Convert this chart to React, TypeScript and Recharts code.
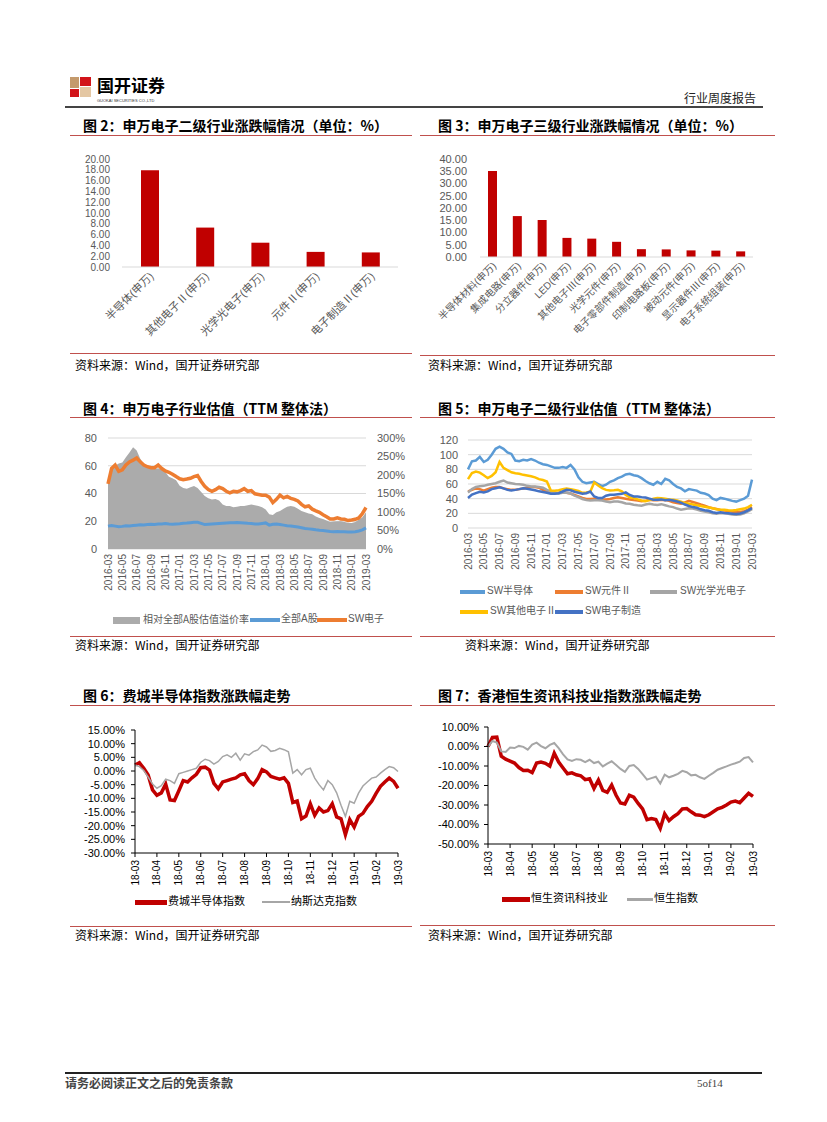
import React from 'react';
import { BarChart, Bar, ComposedChart, LineChart, Area, Line, XAxis, YAxis, CartesianGrid } from 'recharts';

const SANS = "'Liberation Sans', Arial, 'Noto Sans CJK SC', sans-serif";
const CJK = "'Noto Sans CJK SC', 'Liberation Sans', sans-serif";
const RED = '#C00000';
const RULE = '#C0504D';
const SRC = '资料来源：Wind，国开证券研究部';

// 图2: 申万电子二级行业涨跌幅
const sw2Cats = ['半导体(申万)', '其他电子Ⅱ(申万)', '光学光电子(申万)', '元件Ⅱ(申万)', '电子制造Ⅱ(申万)'];
const sw2Chg = [17.9, 7.3, 4.5, 2.8, 2.7];
const sw2Ticks = [0, 2, 4, 6, 8, 10, 12, 14, 16, 18, 20];

// 图3: 申万电子三级行业涨跌幅
const sw3Cats = [
  '半导体材料(申万)', '集成电路(申万)', '分立器件(申万)', 'LED(申万)', '其他电子Ⅲ(申万)', '光学元件(申万)',
  '电子零部件制造(申万)', '印制电路板(申万)', '被动元件(申万)', '显示器件Ⅲ(申万)', '电子系统组装(申万)',
];
const sw3Chg = [35.1, 16.7, 15.1, 7.8, 7.5, 6.2, 3.2, 3.1, 2.7, 2.6, 2.3];
const sw3Ticks = [0, 5, 10, 15, 20, 25, 30, 35, 40];

// 图4/5: half-month points, 2016-03 .. 2019-03
const valMonths = [
  '2016-03', '2016-05', '2016-07', '2016-09', '2016-11', '2017-01', '2017-03', '2017-05', '2017-07', '2017-09',
  '2017-11', '2018-01', '2018-03', '2018-05', '2018-07', '2018-09', '2018-11', '2019-01', '2019-03',
];

const swDianzi = [
  47, 58, 60.5, 56, 57, 60.5, 62.8, 64, 65.6, 62.8,
  60.5, 59.3, 58.6, 58.6, 60.5, 58, 56.2, 55.3, 53.9, 52.2,
  50.6, 49.9, 50.4, 51, 52.2, 53, 48.7, 45.2, 42.8, 41.6,
  42.8, 44.5, 43.5, 41.6, 40.5, 41.6, 41.2, 42.1, 43.5, 41.6,
  42.1, 39.8, 39.3, 38.8, 38.8, 37.4, 33.4, 35.8, 38.8, 36.9,
  37.9, 36.5, 35.8, 34.6, 32.2, 30.4, 31, 28.7, 27.5, 26.4,
  24.7, 23.3, 21.6, 21.6, 22.4, 21.6, 21.4, 20.5, 20.9, 21.4,
  22.4, 25.6, 29.9,
];
const allAShare = [
  16.5, 17, 16.5, 16, 16.3, 16.8, 16.6, 17, 17.2, 17.4,
  17.3, 17.6, 17.8, 17.7, 18, 18.1, 18.3, 18.0, 17.8, 18.0,
  18.2, 18.5, 18.7, 19.0, 19.2, 19.3, 18.5, 17.6, 17.8, 18.0,
  18.2, 18.4, 18.6, 18.8, 18.9, 19.0, 19.1, 19.0, 18.8, 18.5,
  18.3, 18.1, 18.0, 18.4, 18.8, 17.2, 17.8, 18.0, 17.6, 17.2,
  16.8, 16.5, 16.2, 15.8, 15.3, 14.8, 14.5, 14.2, 13.8, 13.5,
  13.3, 13.0, 12.6, 12.5, 12.6, 12.5, 12.4, 12.3, 12.2, 12.5,
  13.0, 13.8, 15.2,
];
const premium = [
  187, 214, 225, 231, 234, 248, 261, 275, 266, 244,
  229, 221, 218, 216, 218, 214, 208, 195, 191, 186,
  171, 165, 163, 167, 170, 165, 154, 143, 137, 134,
  135, 131, 120, 116, 116, 113, 114, 116, 116, 118,
  120, 118, 116, 113, 107, 94, 92, 99, 103, 109,
  114, 116, 114, 109, 103, 99, 96, 94, 88, 84,
  81, 77, 73, 74, 75, 75, 73, 71, 70, 73,
  79, 86, 99,
];

const semi = [
  80, 91, 92, 97, 90, 93, 100, 108, 111, 108,
  103, 101, 92, 91, 93, 92, 94, 92, 89, 87,
  86, 84, 82, 82, 83, 82, 86, 80, 69, 63,
  61, 62, 63, 60, 57, 59, 63, 65, 68, 70,
  73, 74, 72, 71, 68, 64, 61, 59, 63, 60,
  67, 65, 60, 56, 54, 50, 53, 52, 51, 48,
  47, 45, 40, 38, 41, 40, 38.5, 37, 36, 38,
  40, 44, 66,
];
const component2 = [
  50, 52, 54, 53, 51, 53, 55, 56, 56, 54,
  53, 52, 52, 53, 54, 55, 56, 56, 55, 52,
  49, 48, 47.6, 48, 49, 48, 47, 45, 43, 41,
  39.5, 39.5, 40, 39, 38.5, 39, 39.5, 41, 42, 41,
  40, 39, 38, 37.6, 36.5, 37, 38.5, 38, 38, 38.5,
  38, 37, 35, 34, 33, 35, 37, 35.5, 34, 32,
  30.5, 28.5, 27, 25.8, 24.5, 24, 23, 22, 21.5, 22,
  23, 25, 28.5,
];
const opto = [
  48.5, 53, 56, 57, 57.5, 59, 60, 61, 63, 64.8,
  62, 61, 60, 59.5, 59, 57.5, 56.6, 56.5, 56, 55,
  52, 49.8, 47.6, 47, 48, 48, 47, 44, 42, 39.5,
  38, 37.6, 38, 38, 37.5, 36, 35, 36, 36, 35,
  33.5, 33, 31.7, 31, 30.5, 32, 33, 32, 31.5, 32.5,
  31, 29.5, 28.5, 26.5, 25, 26, 27, 26.5, 25, 23.5,
  22.6, 21.5, 20, 19.5, 20.4, 20, 19.5, 18.5, 18, 18.5,
  20, 22.5, 25.8,
];
const otherElec = [
  66.6, 75, 77, 75.5, 72, 68, 71, 76, 90, 82,
  79, 76, 74.7, 74, 72.5, 71.5, 70.5, 69, 66.6, 65.5,
  63.4, 51, 50.7, 51.5, 53, 54, 53, 52, 50.5, 48,
  48.5, 49.5, 62, 58, 54.3, 52, 51.2, 51.5, 52, 50,
  45, 42, 40.8, 39, 37.6, 36.5, 38, 40, 40.8, 40.5,
  40, 39, 38.5, 37.5, 36, 34, 33, 32, 31, 30,
  29, 28, 27, 25.5, 25, 24.8, 24.2, 24, 24.5, 25.5,
  26.5, 28.5, 31.7,
];
const elecMfg = [
  41, 45.5, 47.6, 49.5, 48.5, 50, 53, 54.3, 55.5, 54,
  52, 51.2, 52, 53, 54.3, 53.5, 52.5, 51.5, 50, 49,
  48, 46.8, 46.6, 47.5, 49.8, 52, 51.5, 49.5, 48, 46.6,
  47.5, 49.8, 43, 41, 40.8, 44, 45.3, 45.5, 46, 46.6,
  48.5, 45, 43, 43, 42.1, 41.5, 40, 38.5, 38.5, 39,
  37.8, 38.5, 37.5, 36.2, 34.5, 32, 30, 28.5, 27.5, 25.5,
  24.3, 23.5, 21.5, 20.4, 21.3, 20.5, 20, 19.5, 19, 19.8,
  21.5, 24, 27.2,
];

// 图6/7: 5 points per month, 2018-03 .. 2019-03
const idxMonths = ['18-03', '18-04', '18-05', '18-06', '18-07', '18-08', '18-09', '18-10', '18-11', '18-12', '19-01', '19-02', '19-03'];

const sox = [
  2.2, 3.0, 1.0, -1.5, -6.9, -8.9, -8.0, -4.8, -10.6, -10.8,
  -7.2, -3.5, -4.0, -2.5, -1.2, 1.2, 1.4, 0.3, -4.5, -6.5,
  -4.0, -3.5, -3.0, -2.5, -1.4, -1.0, -3.5, -5.0, -2.8, 0.5,
  -0.3, -2.0, -2.5, -3.0, -2.5, -4.5, -11.5, -11.0, -17.5, -16.5,
  -12.0, -16.2, -13.5, -15.0, -14.5, -12.0, -16.8, -17.5, -23.3, -17.8,
  -20.5, -16.6, -15.5, -13.0, -11.1, -8.2, -5.6, -4.0, -2.6, -3.8,
  -6.3,
];
const nasdaq = [
  2.2, 1.6, 0.2, -2.2, -4.8, -6.3, -5.4, -3.0, -3.5, -4.5,
  -1.0, -0.5, 0, 0.5, 1.0, 3.2, 4.3, 3.8, 2.5, 3.5,
  5.3, 5.9, 5.0, 6.5, 4.0, 6.3, 5.8, 7.1, 7.7, 9.5,
  8.8, 7.2, 7.5, 8.3, 7.8, 7.0, -0.8, 0.5, -1.4, 0.5,
  1.0, -2.6, -5.0, -6.9, -3.5, -5.0, -8.0, -12.5, -16.6, -11.1,
  -11.8, -8.1, -5.5, -4.0, -2.6, -2.2, -0.8, 0.5, 1.6, 1.2,
  -0.2,
];
const hsIT = [
  0, 4.6, 4.8, -5.0, -6.5, -7.5, -8.5, -10.8, -12.3, -12.2,
  -13.4, -8.5, -8.0, -8.6, -10.0, -3.5, -8.0, -11.0, -14.0, -13.5,
  -14.5, -15.0, -17.0, -16.5, -21.5, -17.2, -22.5, -23.5, -19.8, -25.0,
  -29.0, -29.5, -25.0, -26.0, -29.2, -32.0, -37.5, -37.0, -37.5, -42.0,
  -34.5, -38.0, -36.0, -34.5, -32.0, -31.8, -33.5, -35.0, -35.2, -36.0,
  -35.0, -33.5, -32.0, -31.2, -30.0, -28.5, -28.0, -28.8, -26.4, -24.0,
  -25.6,
];
const hsi = [
  0, 2.8, 2.0, -2.5, -2.8, -0.5, -0.8, 0.3, -0.2, -1.6,
  1.0, 2.0, 0.2, -0.9, 0.8, 1.8, -0.8, -4.0, -6.6, -7.4,
  -6.5, -6.8, -8.0, -6.8, -8.5, -7.8, -10.2, -8.8, -7.6, -9.5,
  -11.5, -13.0, -10.0, -9.5, -11.5, -14.2, -17.0, -16.2, -15.5, -19.0,
  -14.4, -15.8, -15.0, -14.0, -12.5, -13.2, -14.8, -14.5, -15.8, -16.6,
  -15.0, -13.5, -11.9, -11.0, -10.2, -9.3, -8.6, -7.8, -5.9, -5.4,
  -8.1,
];

const fig2Data = sw2Cats.map((name, k) => ({ name, v: sw2Chg[k] }));
const fig3Data = sw3Cats.map((name, k) => ({ name, v: sw3Chg[k] }));
const fig4Data = swDianzi.map((sw, i) => ({ i, sw, a: allAShare[i], prem: premium[i] }));
const fig5Data = semi.map((s, i) => ({ i, semi: s, comp: component2[i], opto: opto[i], other: otherElec[i], mfg: elecMfg[i] }));
const fig6Data = sox.map((s, i) => ({ i, sox: s, ndx: nasdaq[i] }));
const fig7Data = hsIT.map((h, i) => ({ i, it: h, hsi: hsi[i] }));
const valTickIdx = valMonths.map((_, k) => k * 4);
const idxTickIdx = idxMonths.map((_, k) => k * 5);

// rotated category label (-45deg), anchored at its end
const SlantTick = (p: any) => {
  const { x, y, payload, size = 10 } = p;
  const ax = x + 2;
  const ay = y + 5;
  return (
    <text x={ax} y={ay} transform={`rotate(-45 ${ax} ${ay})`} textAnchor="end" dominantBaseline="central"
      fontSize={size} fill="#595959" fontFamily={SANS}>
      {payload.value}
    </text>
  );
};

// vertical date label, reading bottom-to-top
const VertTick = (p: any) => {
  const { x, y, payload, labels, step, size, color } = p;
  return (
    <text x={x} y={y} transform={`rotate(-90 ${x} ${y})`} textAnchor="end" dominantBaseline="central"
      fontSize={size} fill={color} fontFamily={SANS}>
      {labels[Math.round(payload.value / step)]}
    </text>
  );
};

const Txt = ({ x, y, size, bold, color = '#000', family = CJK, children }: any) => (
  <div style={{ position: 'absolute', left: x, top: y, fontSize: size, lineHeight: `${size}px`, fontWeight: bold ? 700 : 400,
    color, fontFamily: family, whiteSpace: 'nowrap' }}>{children}</div>
);

const Rule = ({ x1, x2, y, color = RULE, w = 1 }: any) => (
  <div style={{ position: 'absolute', left: x1, top: y - w / 2, width: x2 - x1, height: w, background: color }} />
);

const Swatch = ({ x, y, w, h, color }: any) => (
  <div style={{ position: 'absolute', left: x, top: y - h / 2, width: w, height: h, background: color }} />
);

const LegendItem = ({ x, x2, y, h, color, label, tx, size = 10, tc = '#595959' }: any) => (
  <>
    <Swatch x={x} y={y} w={x2 - x} h={h} color={color} />
    <Txt x={tx} y={y - size / 2 - 1} size={size} color={tc} family={SANS}>{label}</Txt>
  </>
);

const pctTick = (v: number) => `${v.toFixed(2)}%`;

export default function App() {
  return (
    <div style={{ position: 'absolute', left: 0, top: 0, width: 827, height: 1122, background: '#fff', fontFamily: CJK }}>
      {/* header */}
      <div style={{ position: 'absolute', left: 70, top: 77, width: 21, height: 20 }}>
        <div style={{ position: 'absolute', left: 0, top: 0, width: 9, height: 11, background: '#C49A6C' }} />
        <div style={{ position: 'absolute', left: 10, top: 0, width: 11, height: 9, background: '#D2141A' }} />
        <div style={{ position: 'absolute', left: 0, top: 12, width: 9, height: 8, background: '#D2141A' }} />
        <div style={{ position: 'absolute', left: 10, top: 10, width: 11, height: 10, background: '#E4C7A3' }} />
      </div>
      <Txt x={97} y={76} size={17} bold>国开证券</Txt>
      <div style={{ position: 'absolute', left: 97, top: 99, fontSize: 4, lineHeight: '4px', fontFamily: SANS, color: '#333', whiteSpace: 'nowrap' }}>
        GUOKAI SECURITIES CO.,LTD
      </div>
      <Txt x={684} y={92} size={12} color="#222">行业周度报告</Txt>
      <Rule x1={65} x2={763} y={107} color="#444" w={2} />

      {/* 图2 */}
      <Txt x={83} y={118} size={14} bold>图 2：申万电子二级行业涨跌幅情况（单位：%）</Txt>
      <Rule x1={70} x2={412} y={135} />
      <div style={{ position: 'absolute', left: 70, top: 140 }}>
        <BarChart width={340} height={220} data={fig2Data} margin={{ top: 19, right: 12, left: 0, bottom: 0 }} barSize={18}>
          <XAxis dataKey="name" height={93} interval={0} tickLine={false} tickSize={0} tickMargin={2}
            axisLine={{ stroke: '#D9D9D9' }} tick={(p: any) => <SlantTick {...p} size={11} />} />
          <YAxis width={52} domain={[0, 20]} ticks={sw2Ticks} interval={0} tickFormatter={(v: number) => v.toFixed(2)}
            axisLine={false} tickLine={false} tickSize={0} tickMargin={12}
            tick={{ fontSize: 10, fill: '#595959', fontFamily: SANS }} />
          <Bar dataKey="v" fill={RED} isAnimationActive={false} />
        </BarChart>
      </div>
      <Rule x1={70} x2={412} y={353} />
      <Txt x={75} y={359} size={12}>{SRC}</Txt>

      {/* 图3 */}
      <Txt x={438} y={118} size={14} bold>图 3：申万电子三级行业涨跌幅情况（单位：%）</Txt>
      <Rule x1={420} x2={775} y={135} />
      <div style={{ position: 'absolute', left: 420, top: 140 }}>
        <BarChart width={355} height={215} data={fig3Data} margin={{ top: 19, right: 22, left: 0, bottom: 0 }} barSize={9}>
          <XAxis dataKey="name" height={98} interval={0} tickLine={false} tickSize={0} tickMargin={2}
            axisLine={{ stroke: '#D9D9D9' }} tick={(p: any) => <SlantTick {...p} size={10} />} />
          <YAxis width={60} domain={[0, 40]} ticks={sw3Ticks} interval={0} tickFormatter={(v: number) => v.toFixed(2)}
            axisLine={false} tickLine={false} tickSize={0} tickMargin={13}
            tick={{ fontSize: 11, fill: '#595959', fontFamily: SANS }} />
          <Bar dataKey="v" fill={RED} isAnimationActive={false} />
        </BarChart>
      </div>
      <Rule x1={420} x2={775} y={355} />
      <Txt x={428} y={359} size={12}>{SRC}</Txt>

      {/* 图4 */}
      <Txt x={83} y={401} size={14} bold>图 4：申万电子行业估值（TTM 整体法）</Txt>
      <Rule x1={70} x2={412} y={417} />
      <div style={{ position: 'absolute', left: 70, top: 420 }}>
        <ComposedChart width={340} height={180} data={fig4Data} margin={{ top: 18, right: 0, left: 0, bottom: 0 }}>
          <CartesianGrid vertical={false} stroke="#D9D9D9" />
          <XAxis type="number" dataKey="i" domain={[0, 72]} ticks={valTickIdx} interval={0} height={51}
            axisLine={false} tickLine={false} tickSize={0} tickMargin={5}
            tick={(p: any) => <VertTick {...p} labels={valMonths} step={4} size={10} color="#595959" />} />
          <YAxis width={38} domain={[0, 80]} ticks={[0, 20, 40, 60, 80]} interval={0} axisLine={false} tickLine={false}
            tickSize={0} tickMargin={11} tick={{ fontSize: 11, fill: '#595959', fontFamily: SANS }} />
          <YAxis yAxisId="r" orientation="right" width={44} domain={[0, 300]} ticks={[0, 50, 100, 150, 200, 250, 300]}
            interval={0} tickFormatter={(v: number) => `${v}%`} axisLine={false} tickLine={false} tickSize={0}
            tickMargin={11} tick={{ fontSize: 11, fill: '#595959', fontFamily: SANS }} />
          <Area yAxisId="r" dataKey="prem" type="linear" stroke="none" fill="#ABABAB" fillOpacity={1} isAnimationActive={false} />
          <Line dataKey="a" type="linear" stroke="#5B9BD5" strokeWidth={3} dot={false} isAnimationActive={false} />
          <Line dataKey="sw" type="linear" stroke="#ED7D31" strokeWidth={3.5} dot={false} isAnimationActive={false} />
        </ComposedChart>
      </div>
      <Swatch x={113} y={620} w={27} h={7} color="#ABABAB" />
      <Txt x={143} y={614} size={10} color="#595959">相对全部A股估值溢价率</Txt>
      <LegendItem x={250} x2={280} y={620} h={4} color="#5B9BD5" label="全部A股" tx={281} />
      <LegendItem x={317} x2={347} y={620} h={4} color="#ED7D31" label="SW电子" tx={348} />
      <Rule x1={70} x2={412} y={636} />
      <Txt x={75} y={639} size={12}>{SRC}</Txt>

      {/* 图5 */}
      <Txt x={438} y={401} size={14} bold>图 5：申万电子二级行业估值（TTM 整体法）</Txt>
      <Rule x1={420} x2={775} y={417} />
      <div style={{ position: 'absolute', left: 420, top: 422 }}>
        <LineChart width={355} height={158} data={fig5Data} margin={{ top: 18, right: 23, left: 0, bottom: 0 }}>
          <CartesianGrid vertical={false} stroke="#D9D9D9" />
          <XAxis type="number" dataKey="i" domain={[0, 72]} ticks={valTickIdx} interval={0} height={52}
            axisLine={false} tickLine={false} tickSize={0} tickMargin={5}
            tick={(p: any) => <VertTick {...p} labels={valMonths} step={4} size={10} color="#595959" />} />
          <YAxis width={48} domain={[0, 120]} ticks={[0, 20, 40, 60, 80, 100, 120]} interval={0} axisLine={false}
            tickLine={false} tickSize={0} tickMargin={10} tick={{ fontSize: 11, fill: '#595959', fontFamily: SANS }} />
          <Line dataKey="semi" type="linear" stroke="#5B9BD5" strokeWidth={2.5} dot={false} isAnimationActive={false} />
          <Line dataKey="comp" type="linear" stroke="#ED7D31" strokeWidth={2.5} dot={false} isAnimationActive={false} />
          <Line dataKey="opto" type="linear" stroke="#A5A5A5" strokeWidth={2.5} dot={false} isAnimationActive={false} />
          <Line dataKey="other" type="linear" stroke="#FFC000" strokeWidth={2.5} dot={false} isAnimationActive={false} />
          <Line dataKey="mfg" type="linear" stroke="#4472C4" strokeWidth={2.5} dot={false} isAnimationActive={false} />
        </LineChart>
      </div>
      <LegendItem x={460} x2={485} y={592} h={4} color="#5B9BD5" label="SW半导体" tx={487} />
      <LegendItem x={555} x2={583} y={592} h={4} color="#ED7D31" label="SW元件Ⅱ" tx={585} />
      <LegendItem x={650} x2={677} y={592} h={4} color="#A5A5A5" label="SW光学光电子" tx={680} />
      <LegendItem x={460} x2={488} y={612} h={4} color="#FFC000" label="SW其他电子Ⅱ" tx={490} />
      <LegendItem x={555} x2={583} y={612} h={4} color="#4472C4" label="SW电子制造" tx={585} />
      <Rule x1={420} x2={775} y={636} />
      <Txt x={465} y={639} size={12}>{SRC}</Txt>

      {/* 图6 */}
      <Txt x={83} y={688} size={14} bold>图 6：费城半导体指数涨跌幅走势</Txt>
      <Rule x1={70} x2={412} y={705} />
      <div style={{ position: 'absolute', left: 70, top: 712 }}>
        <LineChart width={340} height={178} data={fig6Data} margin={{ top: 18, right: 12, left: 0, bottom: 0 }}>
          <XAxis type="number" dataKey="i" domain={[0, 60]} ticks={idxTickIdx} interval={0} height={37}
            axisLine={{ stroke: '#000' }} tickLine={{ stroke: '#000' }} tickSize={4} tickMargin={3}
            tick={(p: any) => <VertTick {...p} labels={idxMonths} step={5} size={10} color="#000" />} />
          <YAxis width={65} domain={[-30, 15]} ticks={[-30, -25, -20, -15, -10, -5, 0, 5, 10, 15]} interval={0}
            tickFormatter={pctTick} axisLine={{ stroke: '#000' }} tickLine={{ stroke: '#000' }} tickSize={4}
            tickMargin={6} tick={{ fontSize: 11, fill: '#000', fontFamily: SANS }} />
          <Line dataKey="sox" type="linear" stroke={RED} strokeWidth={3.5} dot={false} isAnimationActive={false} />
          <Line dataKey="ndx" type="linear" stroke="#A6A6A6" strokeWidth={1.5} dot={false} isAnimationActive={false} />
        </LineChart>
      </div>
      <LegendItem x={135} x2={167} y={902} h={5} color={RED} label="费城半导体指数" tx={168} size={11} tc="#000" />
      <LegendItem x={262} x2={290} y={902} h={2} color="#A6A6A6" label="纳斯达克指数" tx={291} size={11} tc="#000" />
      <Rule x1={70} x2={412} y={926} />
      <Txt x={75} y={929} size={12}>{SRC}</Txt>

      {/* 图7 */}
      <Txt x={438} y={688} size={14} bold>图 7：香港恒生资讯科技业指数涨跌幅走势</Txt>
      <Rule x1={420} x2={775} y={705} />
      <div style={{ position: 'absolute', left: 420, top: 709 }}>
        <LineChart width={355} height={178} data={fig7Data} margin={{ top: 18, right: 22, left: 0, bottom: 0 }}>
          <XAxis type="number" dataKey="i" domain={[0, 60]} ticks={idxTickIdx} interval={0} height={43}
            axisLine={{ stroke: '#000' }} tickLine={{ stroke: '#000' }} tickSize={4} tickMargin={3}
            tick={(p: any) => <VertTick {...p} labels={idxMonths} step={5} size={10} color="#000" />} />
          <YAxis width={68} domain={[-50, 10]} ticks={[-50, -40, -30, -20, -10, 0, 10]} interval={0}
            tickFormatter={pctTick} axisLine={{ stroke: '#000' }} tickLine={{ stroke: '#000' }} tickSize={4}
            tickMargin={5} tick={{ fontSize: 11, fill: '#000', fontFamily: SANS }} />
          <Line dataKey="it" type="linear" stroke={RED} strokeWidth={3.5} dot={false} isAnimationActive={false} />
          <Line dataKey="hsi" type="linear" stroke="#A6A6A6" strokeWidth={2} dot={false} isAnimationActive={false} />
        </LineChart>
      </div>
      <LegendItem x={502} x2={530} y={899} h={5} color={RED} label="恒生资讯科技业" tx={531} size={11} tc="#000" />
      <LegendItem x={627} x2={653} y={899} h={3} color="#A6A6A6" label="恒生指数" tx={654} size={11} tc="#000" />
      <Rule x1={420} x2={775} y={925} />
      <Txt x={428} y={929} size={12}>{SRC}</Txt>

      {/* footer */}
      <Rule x1={65} x2={762} y={1073} color="#222" w={2} />
      <Txt x={65} y={1077} size={12} bold color="#444">请务必阅读正文之后的免责条款</Txt>
      <Txt x={697} y={1078} size={11} color="#444" family="'Liberation Serif', serif">5of14</Txt>
    </div>
  );
}
